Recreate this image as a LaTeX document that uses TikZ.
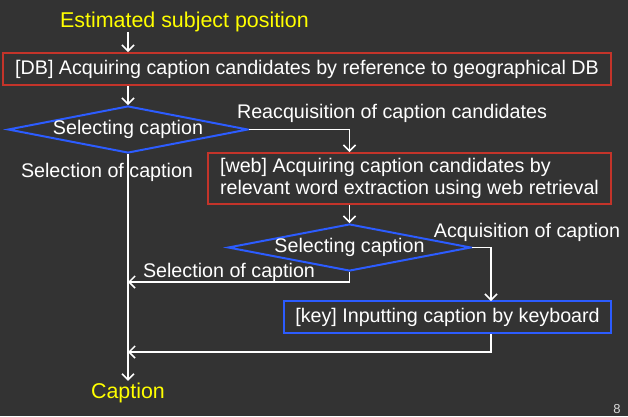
\documentclass[tikz,border=0pt]{standalone}
\usepackage{fontspec}
\setmainfont{Liberation Sans}
\usetikzlibrary{shapes.geometric,arrows.meta}
\definecolor{bgc}{RGB}{51,51,51}
\definecolor{boxred}{RGB}{196,52,42}
\definecolor{boxblue}{RGB}{44,92,255}
\definecolor{ttl}{RGB}{255,255,0}
\tikzset{
  wfont/.style={font=\fontsize{19.7pt}{22pt}\selectfont},
  lbl/.style={wfont, text=white, inner sep=0pt},
  ttlnode/.style={font=\fontsize{21.4pt}{24pt}\selectfont, text=ttl, inner sep=0pt},
  redbox/.style={draw=boxred, line width=2pt, wfont, text=white, inner sep=0pt, rectangle},
  bluebox/.style={draw=boxblue, line width=2pt, wfont, text=white, inner sep=0pt, rectangle},
  decision/.style={draw=boxblue, line width=2pt, wfont, text=white, diamond, inner sep=0pt, aspect=5},
  arr/.style={draw=white, line width=1.5pt, -{Straight Barb[length=6pt,width=12pt]}},
}
\begin{document}
\begin{tikzpicture}[x=1pt,y=-1pt]
\fill[bgc] (0,0) rectangle (628,416);
\useasboundingbox (0,0) rectangle (628,416);

\node[ttlnode] (est) at (184.5,22) {Estimated subject position};
\node[redbox, minimum width=608pt, minimum height=32pt] (db) at (307,69)
  {[DB] Acquiring caption candidates by reference to geographical DB};
\node[decision, minimum width=240pt, minimum height=47pt] (d1) at (128,129.5)
  {\makebox[0pt]{Selecting caption}};
\node[redbox, minimum width=403pt, minimum height=51pt, align=left] (web) at (409.5,178.5)
  {[web] Acquiring caption candidates by\\relevant word extraction using web retrieval};
\node[decision, minimum width=243pt, minimum height=47pt] (d2) at (349.5,247.5)
  {\makebox[0pt]{Selecting caption}};
\node[bluebox, minimum width=327pt, minimum height=32pt] (key) at (447.5,317)
  {[key] Inputting caption by keyboard};
\node[ttlnode, inner sep=2pt] (cap) at (128,393) {Caption};
\node[font=\fontsize{13pt}{15pt}\selectfont, text=white!85!black, inner sep=0pt] (pg) at (617,409) {8};

\node[lbl] (l1) at (392,113) {Reacquisition of caption candidates};
\node[lbl] (l2) at (107,172) {Selection of caption};
\node[lbl] (l3) at (229,272) {Selection of caption};
\node[lbl] (l4) at (527,232) {Acquisition of caption};

\coordinate (j1) at (128,282);
\coordinate (k1) at (491,301);
\coordinate (j2) at (128,352);

\draw[arr] (est.south -| d1) -- (db.north -| d1);
\draw[arr] (db.south -| d1) -- (d1.north);
\draw[arr] (d1.east) -| (web.north -| d2.north);
\draw[arr] (web.south -| d2.north) -- (d2.north);
\draw[arr] (d2.south) |- (j1);
\draw[arr] (d2.east) -| (k1);
\draw[arr] (key.south -| k1) |- (j2);
\draw[arr] (d1.south) -- (cap.north);
\end{tikzpicture}
\end{document}
